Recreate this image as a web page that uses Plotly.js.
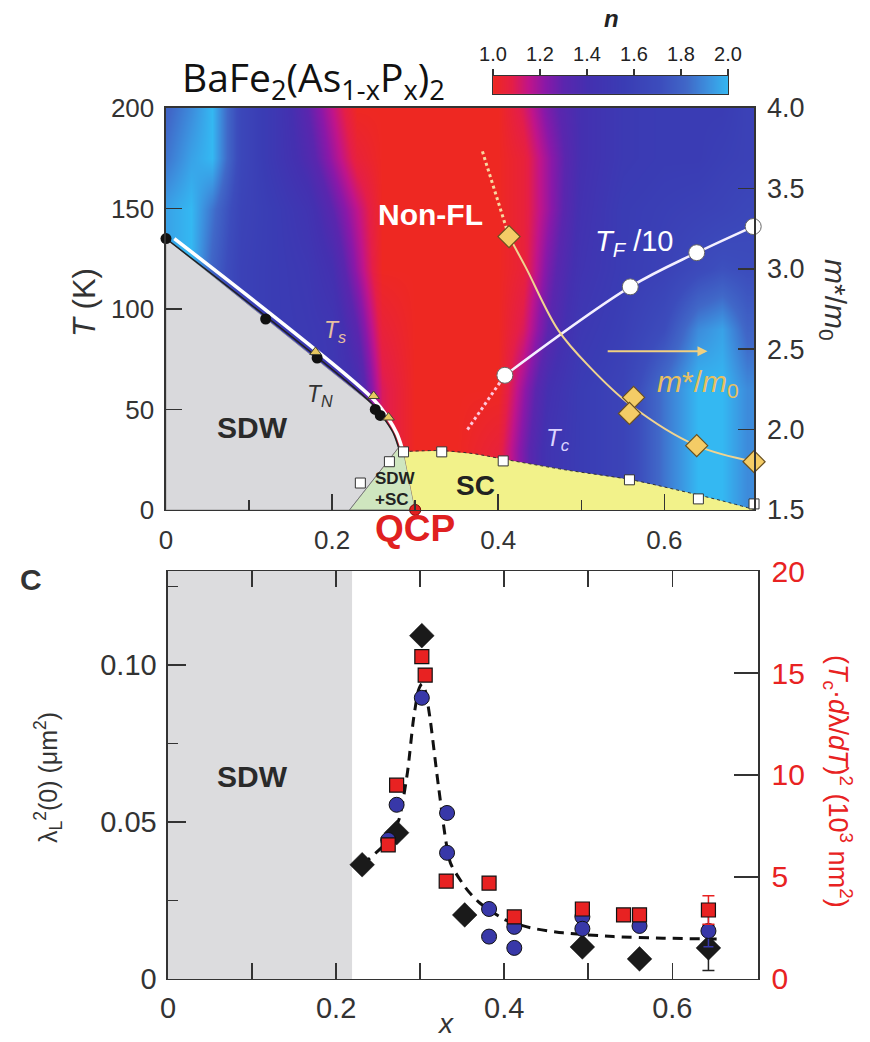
<!DOCTYPE html>
<html>
<head>
<meta charset="utf-8">
<script src="https://cdn.plot.ly/plotly-3.0.1.min.js"></script>
<style>html,body{margin:0;padding:0;background:#fff;}#chart{width:870px;height:1042px;}</style>
</head>
<body>
<div id="chart"></div>
<script>
// ---------- Panel (top): phase diagram ----------
// colour map n(x, T)
const nX = [0, 0.03, 0.055, 0.09, 0.13, 0.17, 0.2, 0.23, 0.26, 0.3, 0.35, 0.4, 0.43, 0.46, 0.5, 0.55, 0.6, 0.64, 0.67, 0.7];
const nT = [0, 30, 60, 90, 120, 150, 175, 200];
const nRowT0   = [1.9,1.9,1.8,1.6,1.55,1.52,1.5,1.45,1.1,1.0,1.0,1.05,1.25,1.45,1.55,1.62,1.85,2.0,2.0,1.9];
const nRowT30  = [1.9,1.9,1.8,1.6,1.55,1.52,1.5,1.45,1.1,1.0,1.0,1.05,1.25,1.45,1.55,1.62,1.85,2.0,2.0,1.9];
const nRowT60  = [1.9,1.9,1.8,1.6,1.55,1.52,1.5,1.4,1.1,1.0,1.0,1.0,1.2,1.4,1.55,1.62,1.85,2.0,2.0,1.9];
const nRowT90  = [1.9,1.9,1.8,1.6,1.55,1.52,1.48,1.3,1.05,1.0,1.0,1.0,1.1,1.3,1.5,1.58,1.7,1.9,1.95,1.8];
const nRowT120 = [1.95,2.0,1.8,1.6,1.55,1.5,1.4,1.2,1.0,1.0,1.0,1.0,1.05,1.25,1.45,1.55,1.6,1.68,1.72,1.7];
const nRowT150 = [1.95,2.0,1.85,1.62,1.55,1.45,1.3,1.15,1.0,1.0,1.0,1.0,1.05,1.2,1.42,1.55,1.58,1.6,1.62,1.65];
const nRowT175 = [1.85,1.95,2.0,1.65,1.5,1.35,1.2,1.05,1.0,1.0,1.0,1.0,1.05,1.2,1.4,1.52,1.55,1.55,1.58,1.6];
const nRowT200 = [1.8,1.9,2.0,1.65,1.5,1.3,1.15,1.0,1.0,1.0,1.0,1.0,1.1,1.25,1.4,1.52,1.55,1.55,1.55,1.6];

// colour bar ticks
const nTicks = [1.0, 1.2, 1.4, 1.6, 1.8, 2.0];
const nTickText = ['1.0','1.2','1.4','1.6','1.8','2.0'];

// phase regions
const sdwRegionX = [0, 0, 0.25, 0.265, 0.274, 0.28, 0.221, 0];
const sdwRegionT = [0, 135, 52, 44, 38, 31, 0, 0];
const coexRegionX = [0.221, 0.28, 0.286, 0.30, 0.221];
const coexRegionT = [0, 31, 29, 0, 0];
const scRegionX = [0.30, 0.286, 0.33, 0.37, 0.41, 0.48, 0.56, 0.62, 0.67, 0.71, 0.30];
const scRegionT = [0, 29, 29.5, 28, 25, 20, 15, 9.5, 4.5, 0, 0];

// T_N, T_s lines and points
const tnLineX = [0, 0.25, 0.265, 0.274, 0.28];
const tnLineT = [135, 52, 44, 38, 31];
const tsLineX = [0.01, 0.25, 0.267, 0.278, 0.284];
const tsLineT = [135, 55, 46, 38, 31];
const tnPointX = [0, 0.12, 0.182, 0.252, 0.258];
const tnPointT = [135, 95, 75.6, 50, 47];
const tsPointX = [0.18, 0.25, 0.268];
const tsPointT = [78.6, 56.7, 46];

// T_c points
const tcPointX = [0.234, 0.269, 0.286, 0.332, 0.406, 0.558, 0.641, 0.708];
const tcPointT = [13.4, 24, 28.9, 28.9, 24.4, 15, 5.5, 3];
const qcpX = [0.30];
const qcpT = [0];

// T_F / 10
const tfX = [0.408, 0.559, 0.639, 0.707];
const tfT = [67, 111, 128, 141];
const tfExtX = [0.363, 0.408];
const tfExtT = [40, 67];

// m*/m0 (right axis)
const mX = [0.413, 0.563, 0.558, 0.639, 0.708];
const mVal = [3.2, 2.2, 2.1, 1.9, 1.8];
const mCurveX = [0.413, 0.433, 0.472, 0.51, 0.56, 0.639, 0.708];
const mCurveVal = [3.2, 3.01, 2.62, 2.39, 2.15, 1.9, 1.8];
const mExtX = [0.381, 0.413];
const mExtVal = [3.73, 3.2];
const arrowT = 79;
const arrowX0 = 0.53, arrowX1 = 0.652;

// ---------- Panel C ----------
const diamondX = [0.231, 0.272, 0.302, 0.353, 0.493, 0.561, 0.643];
const diamondL = [0.0364, 0.0466, 0.1094, 0.0204, 0.0102, 0.0064, 0.0099];
const diamondErr = [0, 0, 0, 0, 0, 0, 0.0072];
const circleX = [0.262, 0.272, 0.302, 0.332, 0.332, 0.382, 0.382, 0.412, 0.412, 0.493, 0.493, 0.561, 0.643];
const circleL = [0.0443, 0.0555, 0.0896, 0.0529, 0.0402, 0.0223, 0.0135, 0.0166, 0.0099, 0.0198, 0.016, 0.0169, 0.0153];
const circleErr = [0,0,0,0,0,0,0,0,0,0,0,0,0.005];
const squareX = [0.262, 0.272, 0.302, 0.306, 0.331, 0.382, 0.412, 0.493, 0.542, 0.561, 0.643];
const squareR = [6.57, 9.5, 15.8, 14.9, 4.8, 4.7, 3.04, 3.43, 3.14, 3.14, 3.38];
const squareErr = [0,0,0,0,0,0,0,0,0,0,0.7];
const fitX = [0.231, 0.262, 0.275, 0.285, 0.292, 0.298, 0.302, 0.306, 0.312, 0.322, 0.336, 0.356, 0.371, 0.40, 0.431, 0.47, 0.53, 0.589, 0.66];
const fitL = [0.0364, 0.044, 0.051, 0.066, 0.0826, 0.092, 0.094, 0.092, 0.0826, 0.061, 0.037, 0.0284, 0.0242, 0.019, 0.0163, 0.0147, 0.0135, 0.013, 0.0127];
const sdwEdgeBottom = 0.219;

const nColors = [
  [0, '#ee2822'], [0.08, '#e41e48'], [0.15, '#c0148a'], [0.22, '#8a18a8'],
  [0.3, '#5a26ae'], [0.4, '#4430b0'], [0.55, '#3a3cb4'], [0.7, '#3c4cbc'],
  [0.82, '#4068c8'], [0.92, '#3c94e0'], [1, '#34b8f2']
];

const traces = [];
traces.push({type:'heatmap', x:nX, y:nT,
  z:[nRowT0, nRowT30, nRowT60, nRowT90, nRowT120, nRowT150, nRowT175, nRowT200],
  zmin:1, zmax:2, colorscale:nColors, zsmooth:'best', showscale:false, xaxis:'x', yaxis:'y', hoverinfo:'skip'});
traces.push({type:'scatter', x:sdwRegionX, y:sdwRegionT, fill:'toself', fillcolor:'#d9d9dc', mode:'lines', line:{color:'#9a9a9a', width:0.8}, xaxis:'x', yaxis:'y'});
traces.push({type:'scatter', x:coexRegionX, y:coexRegionT, fill:'toself', fillcolor:'#cfe6bf', mode:'lines', line:{color:'#666', width:0.8}, xaxis:'x', yaxis:'y'});
traces.push({type:'scatter', x:scRegionX, y:scRegionT, fill:'toself', fillcolor:'#f2f28a', mode:'lines', line:{color:'rgba(0,0,0,0)', width:0}, xaxis:'x', yaxis:'y'});
traces.push({type:'scatter', x:scRegionX.slice(1, 10), y:scRegionT.slice(1, 10), mode:'lines', line:{color:'#333', width:1, dash:'dot', shape:'spline'}, xaxis:'x', yaxis:'y'});
traces.push({type:'scatter', x:tsLineX, y:tsLineT, mode:'lines', line:{color:'#ffffff', width:3.5, shape:'spline'}, xaxis:'x', yaxis:'y'});
traces.push({type:'scatter', x:tnLineX, y:tnLineT, mode:'lines', line:{color:'#222', width:1.5, shape:'spline'}, xaxis:'x', yaxis:'y'});
traces.push({type:'scatter', x:tnPointX, y:tnPointT, mode:'markers', marker:{color:'#111', size:11}, cliponaxis:false, xaxis:'x', yaxis:'y'});
traces.push({type:'scatter', x:tsPointX, y:tsPointT, mode:'markers', marker:{symbol:'triangle-up', color:'#e8c860', size:10, line:{color:'#443', width:1}}, xaxis:'x', yaxis:'y'});
traces.push({type:'scatter', x:tcPointX, y:tcPointT, mode:'markers', marker:{symbol:'square', color:'#ffffff', size:10, line:{color:'#333', width:1}}, cliponaxis:false, xaxis:'x', yaxis:'y'});
traces.push({type:'scatter', x:qcpX, y:qcpT, mode:'markers', marker:{color:'#e02020', size:11, line:{color:'#700', width:1}}, cliponaxis:false, xaxis:'x', yaxis:'y'});
traces.push({type:'scatter', x:tfExtX, y:tfExtT, mode:'lines', line:{color:'#ffc8dc', width:3, dash:'dot'}, xaxis:'x', yaxis:'y'});
traces.push({type:'scatter', x:tfX, y:tfT, mode:'lines+markers', line:{color:'#f4f0ff', width:2.5, shape:'spline'}, marker:{color:'#ffffff', size:16, line:{color:'#666', width:1}}, cliponaxis:false, xaxis:'x', yaxis:'y'});
traces.push({type:'scatter', x:mExtX, y:mExtVal, mode:'lines', line:{color:'#f8d8a0', width:3, dash:'dot'}, xaxis:'x', yaxis:'y2'});
traces.push({type:'scatter', x:mCurveX, y:mCurveVal, mode:'lines', line:{color:'#f0d490', width:2, shape:'spline'}, xaxis:'x', yaxis:'y2'});
traces.push({type:'scatter', x:mX, y:mVal, mode:'markers', marker:{symbol:'diamond', color:'#f4cc66', size:17, line:{color:'#6a5020', width:1.2}}, cliponaxis:false, xaxis:'x', yaxis:'y2'});

// colour bar as its own small heatmap
traces.push({type:'heatmap', x:nTicks, y:[0, 1], z:[nTicks, nTicks], zmin:1, zmax:2, colorscale:nColors, zsmooth:'best', showscale:false, xaxis:'x3', yaxis:'y5', hoverinfo:'skip'});

// panel C
traces.push({type:'scatter', x:fitX, y:fitL, mode:'lines', line:{color:'#111', width:3, dash:'10px,7px', shape:'spline', smoothing:0.6}, xaxis:'x2', yaxis:'y3'});
traces.push({type:'scatter', x:diamondX, y:diamondL, mode:'markers', marker:{symbol:'diamond', color:'#1a1a1a', size:19, line:{color:'#111', width:0.5}},
  error_y:{type:'data', array:diamondErr, visible:true, color:'#222', thickness:1.5, width:6}, xaxis:'x2', yaxis:'y3'});
traces.push({type:'scatter', x:squareX, y:squareR, mode:'markers', marker:{symbol:'square', color:'#e82222', size:14, line:{color:'#111', width:1.2}},
  error_y:{type:'data', array:squareErr, visible:true, color:'#e82222', thickness:1.5, width:6}, xaxis:'x2', yaxis:'y4'});
traces.push({type:'scatter', x:circleX, y:circleL, mode:'markers', marker:{color:'#3838a8', size:15, line:{color:'#111', width:1}},
  error_y:{type:'data', array:circleErr, visible:true, color:'#3838a8', thickness:1.5, width:5}, xaxis:'x2', yaxis:'y3'});

const axisBase = {showgrid:false, zeroline:false, showline:true, linecolor:'#333', linewidth:1.5, tickcolor:'#333', tickwidth:1.5};

function txt(xref, yref, x, y, text, size, color, extra) {
  return Object.assign({xref:xref, yref:yref, x:x, y:y, text:text, showarrow:false,
    xanchor:'center', yanchor:'middle', font:{size:size, color:color}}, extra || {});
}

const layout = {
  width:870, height:1042,
  margin:{l:0, r:0, t:0, b:0, autoexpand:false},
  paper_bgcolor:'#ffffff', plot_bgcolor:'rgba(0,0,0,0)',
  showlegend:false,
  font:{family:'Liberation Sans, Arial, sans-serif', color:'#333'},
  xaxis:Object.assign({}, axisBase, {domain:[0.1908, 0.8667], range:[0, 0.708], anchor:'y', mirror:true,
    tickvals:[0, 0.2, 0.4, 0.6], ticktext:['0', '0.2', '0.4', '0.6'], ticks:'inside', ticklen:16,
    minor:{tickvals:[0.1, 0.3, 0.5], ticks:'inside', ticklen:10, tickcolor:'#333', tickwidth:1.5},
    tickfont:{size:26, color:'#333'}, ticklabelstandoff:6}),
  yaxis:Object.assign({}, axisBase, {domain:[0.5106, 0.8964], range:[0, 200], anchor:'x', mirror:true,
    tickvals:[0, 50, 100, 150, 200], ticks:'inside', ticklen:16, tickfont:{size:26, color:'#333'}, ticklabelstandoff:5}),
  yaxis2:Object.assign({}, axisBase, {overlaying:'y', side:'right', anchor:'x', range:[1.5, 4.0],
    tickvals:[1.5, 2.0, 2.5, 3.0, 3.5, 4.0], ticktext:['1.5', '2.0', '2.5', '3.0', '3.5', '4.0'],
    ticks:'inside', ticklen:16, tickfont:{size:27, color:'#333'}, ticklabelstandoff:6}),
  xaxis2:Object.assign({}, axisBase, {domain:[0.1931, 0.8713], range:[0, 0.702], anchor:'y3', mirror:'allticks',
    tickvals:[0, 0.2, 0.4, 0.6], ticktext:['0', '0.2', '0.4', '0.6'], ticks:'inside', ticklen:16,
    minor:{tickvals:[0.1, 0.3, 0.5], ticks:'inside', ticklen:11, tickcolor:'#333', tickwidth:1.5},
    tickfont:{size:29, color:'#333'}, ticklabelstandoff:3}),
  yaxis3:Object.assign({}, axisBase, {domain:[0.0605, 0.4520], range:[0, 0.13], anchor:'x2',
    tickvals:[0, 0.05, 0.10], ticktext:['0', '0.05', '0.10'], ticks:'inside', ticklen:18,
    minor:{tickvals:[0.025, 0.075, 0.125], ticks:'inside', ticklen:10, tickcolor:'#333', tickwidth:1.5},
    tickfont:{size:29, color:'#333'}, ticklabelstandoff:4}),
  yaxis4:Object.assign({}, axisBase, {overlaying:'y3', side:'right', anchor:'x2', range:[0, 20],
    tickvals:[0, 5, 10, 15, 20], ticks:'inside', ticklen:24, tickfont:{size:30, color:'#e82222'}, ticklabelstandoff:6}),
  xaxis3:Object.assign({}, axisBase, {domain:[0.5667, 0.8368], range:[1, 2], anchor:'y5', side:'top', mirror:true,
    tickvals:nTicks, ticktext:nTickText, ticks:'outside', ticklen:6, linewidth:1.2, tickwidth:1.2,
    tickfont:{size:20, color:'#222'}}),
  yaxis5:Object.assign({}, axisBase, {domain:[0.9098, 0.9271], range:[0, 1], anchor:'x3', mirror:true,
    showticklabels:false, ticks:'', linewidth:1.2}),
  shapes:[
    {type:'rect', xref:'x2', yref:'y3 domain', x0:0, x1:sdwEdgeBottom, y0:0, y1:1, fillcolor:'#dcdcde', line:{width:0}, layer:'below'}
  ],
  annotations:[
    txt('paper','paper', 0.2069, 0.9242, 'BaFe<sub>2</sub>(As<sub>1-x</sub>P<sub>x</sub>)<sub>2</sub>', 39, '#111',
      {xanchor:'left', font:{family:'Open Sans, Noto Sans, sans-serif', size:39, color:'#111'}}),
    txt('paper','paper', 0.7034, 0.9827, '<b><i>n</i></b>', 24, '#222'),
    txt('x','y', 0.318, 147, '<b>Non-FL</b>', 30, '#ffffff'),
    txt('x','y', 0.563, 133, '<i>T<sub>F</sub></i> /10', 29, '#ffffff'),
    txt('x','y', 0.204, 89, '<i>T<sub>s</sub></i>', 23, '#e8c0a0'),
    txt('x','y', 0.186, 57, '<i>T<sub>N</sub></i>', 23, '#333'),
    txt('x','y', 0.104, 41, '<b>SDW</b>', 30, '#2a2a2a'),
    txt('x','y', 0.276, 15.5, '<b>SDW</b>', 17, '#222'),
    txt('x','y', 0.272, 5, '<b>+SC</b>', 17, '#222'),
    txt('x','y', 0.373, 12, '<b>SC</b>', 28, '#222'),
    txt('x','y', 0.472, 35, '<i>T<sub>c</sub></i>', 24, '#dcd4ff'),
    txt('x','y', 0.64, 63, '<i>m</i>*/<i>m</i><sub>0</sub>', 30, '#e8c060'),
    {xref:'x', yref:'y', axref:'x', ayref:'y', x:arrowX1, y:arrowT, ax:arrowX0, ay:arrowT, text:'', showarrow:true,
      arrowhead:2, arrowsize:1, arrowwidth:2, arrowcolor:'#f0d080'},
    txt('x','paper', 0.30, 0.4925, '<b>QCP</b>', 37, '#e02020'),
    txt('paper','paper', 0.0977, 0.7102, '<i>T</i> (K)', 31, '#333', {textangle:-90}),
    txt('paper','paper', 0.9575, 0.7121, '<i>m</i>*/<i>m</i><sub>0</sub>', 30, '#333', {textangle:90}),
    txt('paper','paper', 0.0362, 0.4434, '<b>C</b>', 30, '#333'),
    txt('x2','y3', 0.1, 0.0644, '<b>SDW</b>', 30, '#2a2a2a'),
    txt('paper','paper', 0.0552, 0.2534, 'λ<sub>L</sub><sup>2</sup>(0) (μm<sup>2</sup>)', 25, '#333', {textangle:-90}),
    txt('paper','paper', 0.9632, 0.2495, '(<i>T</i><sub>c</sub>·<i>d</i>λ/<i>dT</i>)<sup>2</sup> (10<sup>3</sup> nm<sup>2</sup>)', 27, '#e82222', {textangle:90}),
    txt('paper','paper', 0.5115, 0.0175, '<i>x</i>', 28, '#333')
  ]
};

Plotly.newPlot('chart', traces, layout, {staticPlot:true, displayModeBar:false});
</script>
</body>
</html>
